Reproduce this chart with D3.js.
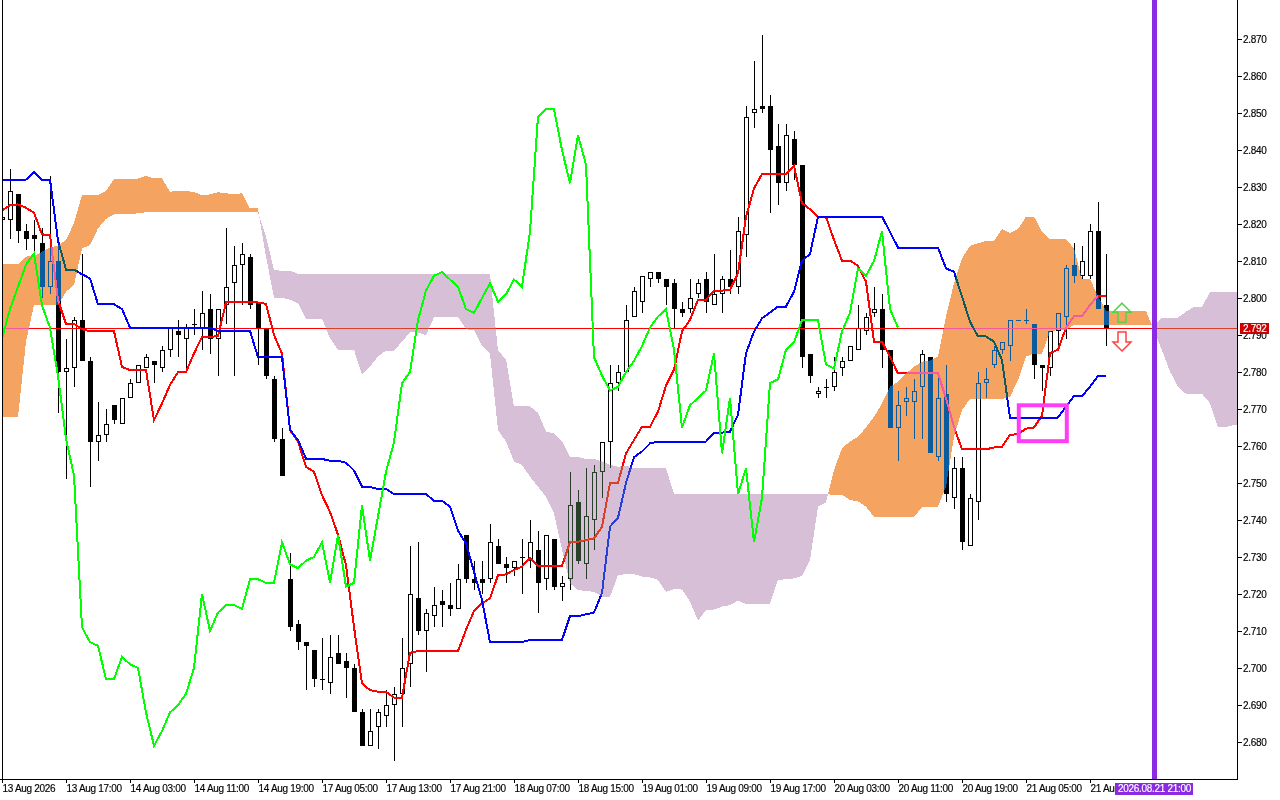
<!DOCTYPE html>
<html>
<head>
<meta charset="utf-8">
<script src="https://cdn.jsdelivr.net/npm/d3@7"></script>
<style>
  html, body { margin: 0; padding: 0; background: #fff; overflow: hidden; }
  svg { display: block; }
  text { font-family: "Liberation Sans", sans-serif; font-size: 10px; letter-spacing: -0.3px; fill: #000; stroke: #000; stroke-width: 0.15px; }
  text.tag { fill: #fff; stroke: #fff; }
</style>
</head>
<body>
<svg></svg>
<script>
var opens = [
  2.821,2.821,2.828,2.818,2.817,2.815,2.803,2.810,2.780,2.781,
  2.794,2.783,2.761,2.763,2.771,2.766,2.773,2.777,2.781,2.783,
  2.781,2.786,2.791,2.789,2.793,2.792,2.797,2.789,2.798,2.804,
  2.809,2.811,2.799,2.792,2.778,2.762,2.724,2.712,2.707,2.705,
  2.697,2.696,2.704,2.702,2.700,2.688,2.679,2.684,2.687,2.690,
  2.693,2.701,2.719,2.710,2.714,2.718,2.717,2.716,2.736,2.724,
  2.724,2.724,2.733,2.728,2.727,2.730,2.729,2.732,2.724,2.735,
  2.722,2.724,2.745,2.728,2.740,2.753,2.761,2.777,2.780,2.795,
  2.799,2.805,2.807,2.805,2.804,2.797,2.797,2.801,2.805,2.798,
  2.801,2.805,2.803,2.817,2.850,2.852,2.852,2.841,2.831,2.843,
  2.836,2.785,2.774,2.776,2.776,2.781,2.783,2.786,2.791,2.796,
  2.797,2.786,2.765,2.772,2.772,2.776,2.784,2.757,2.774,2.746,
  2.754,2.733,2.745,2.777,2.782,2.786,2.787,2.794,2.794,2.793,
  2.782,2.781,2.791,2.795,2.809,2.806,2.806,2.818,2.798];
var highs = [
  2.824,2.835,2.828,2.820,2.821,2.819,2.833,2.815,2.789,2.795,
  2.812,2.784,2.772,2.770,2.771,2.773,2.778,2.782,2.785,2.783,
  2.787,2.792,2.794,2.793,2.797,2.802,2.801,2.797,2.819,2.814,
  2.815,2.812,2.799,2.792,2.779,2.765,2.731,2.713,2.707,2.705,
  2.708,2.709,2.709,2.704,2.701,2.689,2.689,2.689,2.694,2.695,
  2.708,2.733,2.734,2.716,2.722,2.721,2.723,2.728,2.736,2.729,
  2.729,2.739,2.735,2.730,2.729,2.735,2.740,2.737,2.736,2.735,
  2.725,2.753,2.748,2.754,2.755,2.761,2.782,2.782,2.798,2.803,
  2.806,2.807,2.807,2.805,2.805,2.799,2.805,2.805,2.807,2.812,
  2.806,2.813,2.822,2.852,2.864,2.871,2.855,2.847,2.847,2.845,
  2.836,2.785,2.776,2.778,2.784,2.784,2.787,2.798,2.796,2.803,
  2.801,2.786,2.775,2.776,2.778,2.786,2.784,2.780,2.782,2.757,
  2.757,2.747,2.780,2.781,2.787,2.788,2.794,2.794,2.797,2.793,
  2.782,2.791,2.796,2.809,2.815,2.814,2.820,2.826,2.812];
var lows = [
  2.818,2.816,2.815,2.813,2.812,2.800,2.801,2.769,2.751,2.776,
  2.783,2.749,2.756,2.761,2.766,2.766,2.773,2.777,2.781,2.777,
  2.780,2.784,2.784,2.781,2.790,2.786,2.785,2.779,2.793,2.779,
  2.798,2.797,2.782,2.778,2.761,2.752,2.710,2.705,2.694,2.695,
  2.694,2.693,2.701,2.692,2.688,2.679,2.679,2.678,2.684,2.675,
  2.684,2.695,2.709,2.699,2.711,2.711,2.714,2.716,2.723,2.721,
  2.720,2.723,2.728,2.723,2.725,2.720,2.727,2.715,2.721,2.721,
  2.718,2.721,2.728,2.724,2.732,2.746,2.754,2.775,2.780,2.795,
  2.796,2.803,2.804,2.798,2.792,2.795,2.796,2.800,2.796,2.798,
  2.796,2.801,2.801,2.811,2.846,2.850,2.823,2.825,2.829,2.832,
  2.781,2.777,2.773,2.773,2.775,2.779,2.783,2.786,2.790,2.795,
  2.781,2.765,2.756,2.768,2.762,2.762,2.758,2.756,2.745,2.743,
  2.732,2.733,2.740,2.773,2.781,2.785,2.783,2.794,2.793,2.778,
  2.775,2.779,2.786,2.789,2.804,2.805,2.805,2.797,2.787];
var closes = [
  2.822,2.829,2.818,2.816,2.816,2.803,2.810,2.780,2.781,2.794,
  2.783,2.761,2.763,2.766,2.767,2.773,2.777,2.782,2.784,2.782,
  2.786,2.792,2.790,2.792,2.793,2.796,2.789,2.797,2.803,2.809,
  2.812,2.798,2.792,2.779,2.762,2.752,2.711,2.707,2.706,2.697,
  2.697,2.703,2.701,2.700,2.688,2.679,2.683,2.688,2.690,2.693,
  2.700,2.720,2.710,2.715,2.717,2.717,2.716,2.724,2.724,2.723,
  2.723,2.734,2.728,2.727,2.729,2.730,2.734,2.723,2.736,2.722,
  2.723,2.744,2.729,2.741,2.753,2.761,2.777,2.780,2.794,2.802,
  2.806,2.807,2.805,2.803,2.797,2.796,2.800,2.804,2.799,2.801,
  2.805,2.803,2.818,2.849,2.851,2.851,2.840,2.831,2.844,2.836,
  2.784,2.779,2.775,2.776,2.780,2.783,2.787,2.792,2.795,2.797,
  2.786,2.765,2.771,2.773,2.775,2.785,2.758,2.773,2.747,2.754,
  2.734,2.746,2.777,2.778,2.786,2.788,2.794,2.794,2.794,2.782,
  2.781,2.791,2.796,2.808,2.806,2.810,2.818,2.797,2.792];

var tenkan = [
  2.8236,2.8251,2.8253,2.8244,2.823,2.8172,2.817,2.7995,2.793,2.793,
  2.7916,2.791,2.791,2.791,2.791,2.7814,2.7805,2.7805,2.7805,2.767,
  2.7715,2.7765,2.78,2.78,2.785,2.7895,2.7895,2.7897,2.7988,2.7988,
  2.7988,2.7988,2.7988,2.7984,2.79,2.785,2.7643,2.7612,2.7544,2.753,
  2.7467,2.7422,2.736,2.7278,2.7111,2.6958,2.694,2.6936,2.6936,2.692,
  2.692,2.7041,2.7046,2.7046,2.7046,2.7046,2.7046,2.7046,2.7103,2.7154,
  2.7175,2.7188,2.7251,2.7253,2.7265,2.7274,2.7298,2.7276,2.7276,2.7276,
  2.7276,2.734,2.7341,2.7346,2.735,2.7382,2.7499,2.7501,2.758,2.7616,
  2.7652,2.7652,2.7693,2.7763,2.7806,2.791,2.7941,2.7995,2.7995,2.802,
  2.802,2.8022,2.8067,2.8219,2.8296,2.8335,2.8335,2.8335,2.8335,2.8357,
  2.8257,2.824,2.8219,2.8219,2.8157,2.8101,2.8101,2.8087,2.8044,2.7882,
  2.7882,2.7841,2.7796,2.7796,2.7796,2.7796,2.7796,2.7796,2.7729,2.7652,
  2.7591,2.7591,2.7591,2.7591,2.7596,2.7598,2.763,2.7632,2.7647,2.765,
  2.7682,2.7851,2.786,2.792,2.7951,2.7951,2.7981,2.8006,2.8006];
var kijun = [
  2.832,2.832,2.832,2.832,2.834,2.832,2.832,2.8155,2.8077,2.8077,
  2.8064,2.8053,2.7983,2.7983,2.7983,2.797,2.792,2.792,2.792,2.792,
  2.792,2.792,2.792,2.792,2.792,2.792,2.792,2.7911,2.7911,2.7911,
  2.7911,2.7911,2.784,2.784,2.784,2.784,2.7644,2.7616,2.7566,2.7566,
  2.7565,2.756,2.756,2.7555,2.7534,2.749,2.7489,2.7484,2.7484,2.747,
  2.747,2.747,2.747,2.747,2.7452,2.7452,2.7436,2.7371,2.7337,2.726,
  2.7184,2.707,2.707,2.707,2.707,2.707,2.7076,2.7076,2.7076,2.7076,
  2.7076,2.714,2.714,2.7145,2.715,2.7203,2.7382,2.7406,2.75,2.757,
  2.7585,2.7607,2.7612,2.7612,2.7612,2.7612,2.7612,2.7612,2.7612,2.7636,
  2.7636,2.7639,2.7684,2.7851,2.7909,2.7945,2.7961,2.7977,2.7977,2.8017,
  2.8101,2.8119,2.8219,2.822,2.822,2.822,2.822,2.822,2.822,2.822,
  2.822,2.8179,2.8136,2.8136,2.8136,2.8136,2.8136,2.8136,2.808,2.8071,
  2.8004,2.7936,2.7896,2.7896,2.7882,2.7832,2.7677,2.7677,2.7677,2.7677,
  2.7677,2.7677,2.7677,2.7706,2.7735,2.7735,2.776,2.7789,2.7789];
var chikou = [
  2.789,2.797,2.803,2.809,2.812,2.798,2.792,2.779,2.762,2.752,
  2.711,2.707,2.706,2.697,2.697,2.703,2.701,2.700,2.688,2.679,
  2.683,2.688,2.690,2.693,2.700,2.720,2.710,2.715,2.717,2.717,
  2.716,2.724,2.724,2.723,2.723,2.734,2.728,2.727,2.729,2.730,
  2.734,2.723,2.736,2.722,2.723,2.744,2.729,2.741,2.753,2.761,
  2.777,2.780,2.794,2.802,2.806,2.807,2.805,2.803,2.797,2.796,
  2.800,2.804,2.799,2.801,2.805,2.803,2.818,2.849,2.851,2.851,
  2.840,2.831,2.844,2.836,2.784,2.779,2.775,2.776,2.780,2.783,
  2.787,2.792,2.795,2.797,2.786,2.765,2.771,2.773,2.775,2.785,
  2.758,2.773,2.747,2.754,2.734,2.746,2.777,2.778,2.786,2.788,
  2.794,2.794,2.794,2.782,2.781,2.791,2.796,2.808,2.806,2.810,
  2.818,2.797,2.792];
var senkouA = [
  2.8091,2.8091,2.8091,2.8112,2.8114,2.8125,2.8137,2.8141,2.8157,2.8202,
  2.8278,2.8278,2.8278,2.829,2.8321,2.8321,2.8321,2.8323,2.833,2.8323,
  2.8323,2.8287,2.829,2.829,2.8286,2.8278,2.828,2.8286,2.8283,2.8281,
  2.8283,2.8242,2.8242,2.8112,2.8001,2.8001,2.7995,2.7986,2.7944,2.7944,
  2.7944,2.7891,2.786,2.786,2.786,2.7792,2.7815,2.7842,2.7858,2.7858,
  2.7882,2.7907,2.7907,2.79,2.7948,2.7948,2.7948,2.7948,2.7916,2.7912,
  2.7871,2.7849,2.7643,2.7612,2.7558,2.7549,2.7517,2.749,2.7463,2.7418,
  2.732,2.7229,2.7211,2.7208,2.7206,2.7193,2.7193,2.7251,2.7254,2.7254,
  2.7247,2.7245,2.7238,2.7206,2.7213,2.7212,2.7179,2.7128,2.7157,2.7158,
  2.7166,2.717,2.7182,2.7173,2.7173,2.7173,2.7173,2.7238,2.724,2.7242,
  2.7249,2.7292,2.7436,2.7448,2.7535,2.7594,2.7612,2.7625,2.765,2.7679,
  2.7715,2.776,2.7774,2.7796,2.7814,2.7828,2.7831,2.7842,2.795,2.804,
  2.8107,2.8141,2.8148,2.8154,2.8154,2.8186,2.8175,2.8186,2.822,2.822,
  2.8179,2.8159,2.8159,2.8159,2.8134,2.8051,2.8051,2.8005,2.7966,2.7965,
  2.7965,2.7965,2.7965,2.7965,2.7912,2.7859,2.7801,2.776,2.7741,2.7741,
  2.7741,2.7716,2.7651,2.7651,2.7657,2.766];
var senkouB = [
  2.7679,2.7679,2.7679,2.7882,2.7981,2.7981,2.7981,2.7981,2.8017,2.8035,
  2.8134,2.8143,2.8188,2.8214,2.8226,2.8226,2.8226,2.8229,2.8232,2.8232,
  2.8232,2.8232,2.8232,2.8232,2.8232,2.8232,2.8232,2.8232,2.8232,2.8232,
  2.8232,2.8232,2.8232,2.8166,2.8076,2.8073,2.8074,2.8065,2.8065,2.8065,
  2.8065,2.8065,2.8065,2.8065,2.8065,2.8065,2.8065,2.8065,2.8065,2.8065,
  2.8065,2.8065,2.8065,2.8065,2.8065,2.8065,2.8065,2.8065,2.8065,2.8065,
  2.8065,2.8065,2.7858,2.7834,2.7707,2.7707,2.7707,2.769,2.7639,2.7634,
  2.7612,2.7571,2.757,2.7565,2.7565,2.7558,2.7549,2.7544,2.7547,2.754,
  2.754,2.754,2.754,2.754,2.747,2.747,2.747,2.747,2.747,2.747,
  2.747,2.747,2.747,2.747,2.747,2.747,2.747,2.747,2.747,2.747,
  2.747,2.747,2.747,2.747,2.7468,2.7468,2.7454,2.745,2.7436,2.7409,
  2.7409,2.7409,2.7409,2.7409,2.7409,2.7434,2.7434,2.7436,2.749,2.7625,
  2.7697,2.7727,2.7727,2.7727,2.7727,2.7727,2.7733,2.7778,2.7842,2.785,
  2.785,2.7909,2.7914,2.7914,2.7927,2.7927,2.7927,2.7927,2.7927,2.7927,
  2.7927,2.7927,2.7927,2.7927,2.7927,2.7947,2.7947,2.7947,2.7963,2.7976,
  2.7976,2.8016,2.8016,2.8016,2.8016,2.8016];

var priceTicks = [2.680,2.690,2.700,2.710,2.720,2.730,2.740,2.750,2.760,2.770,
                  2.780,2.790,2.800,2.810,2.820,2.830,2.840,2.850,2.860,2.870];
var timeTickBars = [0,8,16,24,32,40,48,56,64,72,80,88,96,104,112,120,128,136];
var timeLabels = ["13 Aug 2026","13 Aug 17:00","14 Aug 03:00","14 Aug 11:00","14 Aug 19:00",
                  "17 Aug 05:00","17 Aug 13:00","17 Aug 21:00","18 Aug 07:00","18 Aug 15:00",
                  "19 Aug 01:00","19 Aug 09:00","19 Aug 17:00","20 Aug 03:00","20 Aug 11:00",
                  "20 Aug 19:00","21 Aug 05:00","21 Aug 13:00"];

var bidPrice = 2.792;
var cursorBar = 144;
var cursorLabel = "2026.08.21 21:00";
var arrowBar = 140;
var upArrowPrice = 2.7986;
var downArrowPrice = 2.7857;
var boxBars = [127.1, 133.1];
var boxPrices = [2.7710, 2.7613];

var screen = {width:1280,height:800};
var plot = {right:1237,bottom:779};

var x = d3.scaleLinear().domain([0,cursorBar]).range([2,1154]);
var y = d3.scaleLinear().domain([2.87,2.68]).range([39,742]);

var svg = d3.select("svg")
            .attr("width",screen.width)
            .attr("height",screen.height)
            .style("isolation","isolate");

svg.append("rect")
   .attr("width",screen.width)
   .attr("height",screen.height)
   .attr("fill","#fff");

svg.append("defs").append("clipPath")
   .attr("id","plotclip")
   .append("rect")
   .attr("x",0).attr("y",0)
   .attr("width",plot.right).attr("height",plot.bottom);

// candles, pixel snapped the way the terminal does it
var px = function(v) {return Math.round(y(v));};
var candles = svg.append("g")
   .attr("shape-rendering","crispEdges")
   .selectAll("g")
   .data(closes.map(function(c,i){return {i:i,o:opens[i],h:highs[i],l:lows[i],c:c};}))
   .enter()
   .append("g");

candles.append("rect")
   .attr("x",function(d){return Math.round(x(d.i));})
   .attr("width",1)
   .attr("y",function(d){return px(d.h);})
   .attr("height",function(d){return Math.max(px(d.l)-px(d.h),1);})
   .attr("fill","#000");

candles.append("rect")
   .attr("x",function(d){return Math.round(x(d.i))-2;})
   .attr("width",5)
   .attr("y",function(d){return px(Math.max(d.o,d.c));})
   .attr("height",function(d){return Math.max(px(Math.min(d.o,d.c))-px(Math.max(d.o,d.c)),1);})
   .attr("fill","#000");

// white bodies get punched out of the black one
candles.filter(function(d){return d.c>d.o && px(d.o)-px(d.c)>2;})
   .append("rect")
   .attr("x",function(d){return Math.round(x(d.i))-1;})
   .attr("width",3)
   .attr("y",function(d){return px(d.c)+1;})
   .attr("height",function(d){return px(d.o)-px(d.c)-2;})
   .attr("fill","#fff");

// current price line
svg.append("line")
   .attr("x1",0).attr("x2",plot.right)
   .attr("y1",px(bidPrice)+0.5).attr("y2",px(bidPrice)+0.5)
   .attr("stroke","#f00")
   .attr("shape-rendering","crispEdges");

var lineGen = d3.line()
   .x(function(d,i){return x(i);})
   .y(function(d){return y(d);});

var drawLine = function(values,color) {
  svg.append("path")
     .attr("d",lineGen(values))
     .attr("fill","none")
     .attr("stroke",color)
     .attr("stroke-width",2)
     .attr("shape-rendering","crispEdges");
};

drawLine(tenkan,"#f00");
drawLine(kijun,"#00f");

// cloud: add the crossing points so both colours meet exactly
var cloudPts = [];
senkouA.forEach(function(a,i){
  var b = senkouB[i];
  if (i>0) {
    var pa = senkouA[i-1], pb = senkouB[i-1];
    if ((pa-pb)*(a-b)<0) {
      var t = (pa-pb)/((pa-pb)-(a-b));
      var v = pa+(a-pa)*t;
      cloudPts.push({i:i-1+t,a:v,b:v});
    }
  }
  cloudPts.push({i:i,a:a,b:b});
});

var area = d3.area()
   .x(function(d){return x(d.i);})
   .y0(function(d){return y(d.a);})
   .y1(function(d){return y(d.b);});

// the terminal xors the cloud into the chart, difference with the inverse colour does the same
svg.append("path")
   .attr("d",area.defined(function(d){return d.a>=d.b;})(cloudPts))
   .attr("fill","#0b5b9f")
   .attr("clip-path","url(#plotclip)")
   .attr("shape-rendering","crispEdges")
   .style("mix-blend-mode","difference");

svg.append("path")
   .attr("d",area.defined(function(d){return d.a<=d.b;})(cloudPts))
   .attr("fill","#274027")
   .attr("clip-path","url(#plotclip)")
   .attr("shape-rendering","crispEdges")
   .style("mix-blend-mode","difference");

// chikou sits on top of the cloud
drawLine(chikou,"#0f0");

// magenta box
svg.append("rect")
   .attr("x",x(boxBars[0]))
   .attr("y",y(boxPrices[0]))
   .attr("width",x(boxBars[1])-x(boxBars[0]))
   .attr("height",y(boxPrices[1])-y(boxPrices[0]))
   .attr("fill","none")
   .attr("stroke","#ff3df5")
   .attr("stroke-width",4);

// arrows
var upShape = [[0,0],[9,9],[4,9],[4,19],[-4,19],[-4,9],[-9,9]];
var downShape = [[0,0],[9,-9],[4,-9],[4,-19],[-4,-19],[-4,-9],[-9,-9]];
svg.append("path")
   .attr("d",d3.line()(upShape)+"Z")
   .attr("transform","translate("+x(arrowBar)+","+y(upArrowPrice)+")")
   .attr("fill","none")
   .attr("stroke","#58cf48")
   .attr("stroke-width",1.5);
svg.append("path")
   .attr("d",d3.line()(downShape)+"Z")
   .attr("transform","translate("+x(arrowBar)+","+y(downArrowPrice)+")")
   .attr("fill","#fff")
   .attr("stroke","#ff4040")
   .attr("stroke-width",1.5);

// cursor line
svg.append("line")
   .attr("x1",x(cursorBar)+0.5).attr("x2",x(cursorBar)+0.5)
   .attr("y1",0).attr("y2",plot.bottom)
   .attr("stroke","#8a2be2")
   .attr("stroke-width",5)
   .attr("shape-rendering","crispEdges");

// nothing is drawn left of the chart edge
svg.append("rect")
   .attr("x",0).attr("y",0)
   .attr("width",2).attr("height",plot.bottom)
   .attr("fill","#fff");
svg.append("line")
   .attr("x1",2.5).attr("x2",2.5)
   .attr("y1",0).attr("y2",plot.bottom)
   .attr("stroke","#000")
   .attr("shape-rendering","crispEdges");

// axes
var yAxis = svg.append("g")
   .attr("transform","translate("+plot.right+",0)")
   .call(d3.axisRight(y).tickValues(priceTicks).tickFormat(d3.format(".3f")).tickSize(5).tickPadding(1));
yAxis.select(".domain").attr("d","M0.5,0V"+plot.bottom);

var xAxis = svg.append("g")
   .attr("transform","translate(0,"+plot.bottom+")")
   .call(d3.axisBottom(x).tickValues(timeTickBars).tickFormat(function(d,i){return timeLabels[i];}).tickSize(4));
xAxis.select(".domain").attr("d","M0,0.5H"+(plot.right+1));
xAxis.selectAll("text").attr("text-anchor","start").attr("x",0).attr("y",6).attr("dy","0.71em");
svg.selectAll("g").attr("font-family",null).attr("font-size",null);
svg.selectAll(".tick line, .domain").attr("shape-rendering","crispEdges").attr("stroke","#000");

// price tag
svg.append("rect")
   .attr("x",plot.right+3).attr("y",px(bidPrice)-5)
   .attr("width",29).attr("height",11)
   .attr("fill","#cc0000");
svg.append("text")
   .attr("class","tag")
   .attr("x",plot.right+6).attr("y",px(bidPrice)+4)
   .text(d3.format(".3f")(bidPrice));

// cursor time tag
svg.append("rect")
   .attr("x",x(cursorBar)-39).attr("y",plot.bottom+4)
   .attr("width",78).attr("height",12)
   .attr("fill","#8a2be2");
svg.append("text")
   .attr("class","tag")
   .attr("x",x(cursorBar)-36).attr("y",plot.bottom+13)
   .text(cursorLabel);
</script>
</body>
</html>
